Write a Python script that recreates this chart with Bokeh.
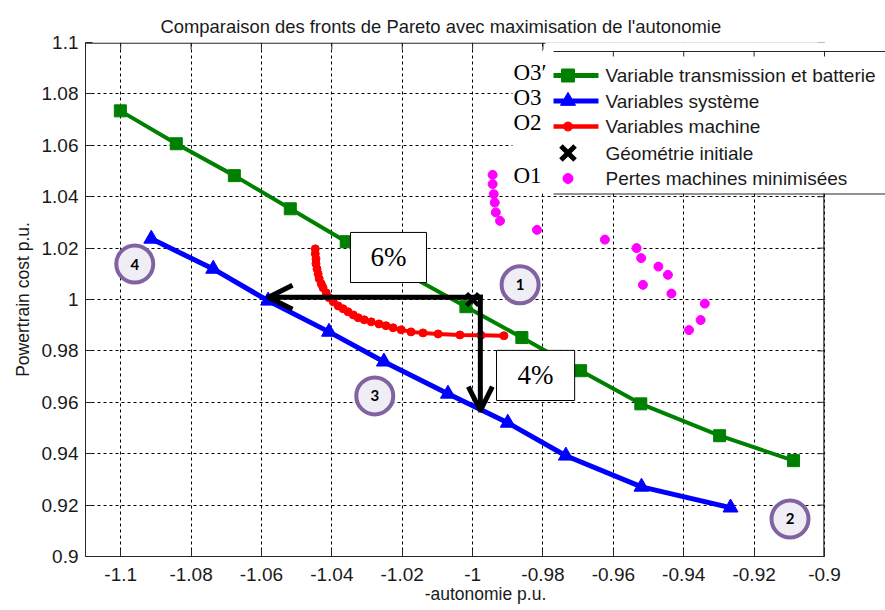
from bokeh.plotting import figure
from bokeh.models import (Range1d, FixedTicker, Label, BoxAnnotation, Arrow, OpenHead)
from bokeh.core.properties import value
from bokeh.embed import file_html
from bokeh.resources import INLINE

# ---------------- data ----------------
x_ticks = [-1.1, -1.08, -1.06, -1.04, -1.02, -1.0, -0.98, -0.96, -0.94, -0.92, -0.9]
x_tick_labels = ["-1.1", "-1.08", "-1.06", "-1.04", "-1.02", "-1", "-0.98", "-0.96", "-0.94", "-0.92", "-0.9"]
y_ticks = [0.9, 0.92, 0.94, 0.96, 0.98, 1.0, 1.02, 1.04, 1.06, 1.08, 1.1]
y_tick_labels = ["0.9", "0.92", "0.94", "0.96", "0.98", "1", "1.02", "1.04", "1.06", "1.08", "1.1"]

green_x = [-1.1001, -1.0842, -1.0677, -1.0518, -1.0359, -1.0189, -1.0019, -0.9860, -0.9693, -0.9522, -0.9298, -0.9088]
green_y = [1.0734, 1.0606, 1.0482, 1.0353, 1.0225, 1.0100, 0.9972, 0.9852, 0.9723, 0.9594, 0.9470, 0.9373]

blue_x = [-1.0913, -1.0737, -1.0581, -1.0408, -1.0252, -1.0070, -0.9900, -0.9735, -0.9520, -0.9267]
blue_y = [1.0236, 1.0119, 0.9995, 0.9874, 0.9758, 0.9633, 0.9520, 0.9392, 0.9271, 0.9190]

red_x = [-1.0447, -1.0447, -1.0445, -1.0445, -1.0442, -1.0439, -1.0436, -1.0430, -1.0425, -1.0416,
         -1.0408, -1.0396, -1.0382, -1.0368, -1.0354, -1.0339, -1.0325, -1.0308, -1.0288, -1.0266,
         -1.0246, -1.0226, -1.0203, -1.0175, -1.0141, -1.0098, -1.0036, -0.9976, -0.9911]
red_y = [1.0197, 1.0178, 1.0158, 1.0139, 1.0119, 1.0100, 1.0081, 1.0061, 1.0046, 1.0026,
         1.0007, 0.9991, 0.9975, 0.9964, 0.9952, 0.9940, 0.9929, 0.9921, 0.9913, 0.9905,
         0.9898, 0.9890, 0.9882, 0.9874, 0.9870, 0.9866, 0.9862, 0.9861, 0.9859]

pink_x = [-0.9943, -0.9943, -0.9940, -0.9937, -0.9934, -0.9922, -0.9817, -0.9624, -0.9534,
          -0.9521, -0.9472, -0.9445, -0.9516, -0.9435, -0.9340, -0.9352, -0.9385]
pink_y = [1.0485, 1.0449, 1.0410, 1.0377, 1.0339, 1.0306, 1.0271, 1.0233, 1.0200,
          1.0161, 1.0128, 1.0096, 1.0057, 1.0023, 0.9984, 0.9920, 0.9881]

geo_x = [-1.0]
geo_y = [1.0]

circle_x = [-0.9865, -0.9098, -1.0278, -1.0960]
circle_y = [1.0057, 0.9146, 0.9625, 1.0138]
circle_text = ["1", "2", "3", "4"]

gain_corner = (-0.9978, 1.0009)
gain_x_end = -1.0580
gain_y_end = 0.9568
box6 = dict(left=-1.0347, right=-1.0131, bottom=1.0066, top=1.0261)
box4 = dict(left=-0.9932, right=-0.9710, bottom=0.9607, top=0.9802)

series_labels = ["Variable transmission et batterie", "Variables syst\u00e8me", "Variables machine",
                 "G\u00e9om\u00e9trie initiale", "Pertes machines minimis\u00e9es"]
o_labels = ["O3\u2032", "O3", "O2", "O1"]

title_text = "Comparaison des fronts de Pareto avec maximisation de l'autonomie"
xlabel_text = "-autonomie p.u."
ylabel_text = "Powertrain cost p.u."

# ---------------- layout ----------------
W, H = 885, 610
FL, FT, FB = 85, 42, 54          # canvas borders (px)
XMIN, XMAX_AX, YMIN, YMAX = -1.11, -0.9, 0.9, 1.1
PXU_X = 739.0 / 0.21             # px per x unit
PXU_Y = 514.0 / 0.2              # px per y unit
x_end = XMIN + (W - FL) / PXU_X

def px2x(px):   # canvas pixel -> data x
    return XMIN + (px - FL) / PXU_X

def py2y(py):   # canvas pixel -> data y
    return YMAX - (py - FT) / PXU_Y

AX_COL = "#262626"
TXT_COL = "#1a1a1a"

p = figure(width=W, height=H, x_range=Range1d(XMIN, x_end), y_range=Range1d(YMIN, YMAX),
           output_backend="svg", toolbar_location=None,
           min_border_left=FL, min_border_right=0, min_border_top=FT, min_border_bottom=FB)
p.outline_line_color = None
p.background_fill_color = "white"
p.border_fill_color = "white"

# title
p.title.text = title_text
p.title.align = "left"
p.title.offset = 160 - FL
p.title.text_font = "Liberation Sans"
p.title.text_font_size = "18.4px"
p.title.text_font_style = "normal"
p.title.text_color = TXT_COL
p.title.vertical_align = "bottom"
p.title.standoff = 11

# axes
for ax, ticks, labels in ((p.xaxis[0], x_ticks, x_tick_labels), (p.yaxis[0], y_ticks, y_tick_labels)):
    ax.ticker = FixedTicker(ticks=ticks)
    ax.major_label_overrides = dict(zip(ticks, labels))
    ax.major_tick_in = 7
    ax.major_tick_out = 0
    ax.minor_tick_line_color = None
    ax.axis_line_color = AX_COL
    ax.major_tick_line_color = AX_COL
    ax.major_label_text_font = "Liberation Sans"
    ax.major_label_text_font_size = "19px"
    ax.major_label_text_color = TXT_COL
    ax.axis_label_text_font = "Liberation Sans"
    ax.axis_label_text_font_size = "17.5px"
    ax.axis_label_text_font_style = "normal"
    ax.axis_label_text_color = TXT_COL
p.xaxis[0].bounds = (XMIN, XMAX_AX)
p.xaxis[0].major_label_standoff = 11
p.xaxis[0].axis_label = xlabel_text
p.xaxis[0].axis_label_standoff = 0
p.yaxis[0].major_label_standoff = 7
p.yaxis[0].axis_label = ylabel_text
p.yaxis[0].axis_label_standoff = 6

# grids
for g, ticks in ((p.xgrid[0], x_ticks), (p.ygrid[0], y_ticks)):
    g.ticker = FixedTicker(ticks=ticks)
    g.grid_line_color = "black"
    g.grid_line_alpha = 1.0
    g.grid_line_width = 1
    g.grid_line_dash = "3 3"

# frame: top, right and ticks on them
tick_dx = 7 / PXU_X
tick_dy = 7 / PXU_Y
half_x = 0.6 / PXU_X
half_y = 0.6 / PXU_Y
p.quad(left=[XMAX_AX + half_x], right=[x_end + 0.01], bottom=[YMIN - 0.01], top=[YMAX + 0.01],
       fill_color="white", line_color=None)
p.segment(x0=[XMIN], y0=[YMAX - half_y], x1=[XMAX_AX], y1=[YMAX - half_y], line_color=AX_COL, line_width=1.2)
p.segment(x0=[XMAX_AX - half_x], y0=[YMIN], x1=[XMAX_AX - half_x], y1=[YMAX], line_color=AX_COL, line_width=1.2)
p.segment(x0=x_ticks, y0=[YMAX] * len(x_ticks), x1=x_ticks, y1=[YMAX - tick_dy] * len(x_ticks),
          line_color=AX_COL, line_width=1)
p.segment(x0=[XMAX_AX] * len(y_ticks), y0=y_ticks, x1=[XMAX_AX - tick_dx] * len(y_ticks), y1=y_ticks,
          line_color=AX_COL, line_width=1)

# white area behind the legend
p.quad(left=[px2x(512)], right=[px2x(545)], bottom=[py2y(193)], top=[py2y(50)],
       fill_color="white", line_color=None)
p.quad(left=[px2x(545)], right=[x_end + 0.01], bottom=[py2y(193)], top=[YMAX + 0.01],
       fill_color="white", line_color=None)
# legend box top / bottom rules
p.segment(x0=[px2x(553), px2x(553)], y0=[py2y(51), py2y(193.5)],
          x1=[x_end + 0.01, x_end + 0.01], y1=[py2y(51), py2y(193.5)],
          line_color=AX_COL, line_width=1.2)
leg_ticks = [t for t in x_ticks if t > px2x(553)]
p.segment(x0=leg_ticks, y0=[py2y(51)] * len(leg_ticks), x1=leg_ticks, y1=[py2y(56)] * len(leg_ticks),
          line_color=AX_COL, line_width=1)

# ---------------- series ----------------
GREEN, BLUE, RED, MAG = "#008000", "#0000ff", "#ff0000", "#ff00ff"
p.line(green_x, green_y, line_color=GREEN, line_width=4)
p.scatter(green_x, green_y, marker="square", size=12, fill_color=GREEN, line_color=GREEN)
p.line(blue_x, blue_y, line_color=BLUE, line_width=5)
p.scatter(blue_x, blue_y, marker="triangle", size=15, fill_color=BLUE, line_color=BLUE)
p.line(red_x, red_y, line_color=RED, line_width=4)
p.scatter(red_x, red_y, marker="circle", size=8, fill_color=RED, line_color=RED)
p.scatter(geo_x, geo_y, marker="x", size=17, line_color="black", line_width=4.5)
p.scatter(pink_x, pink_y, marker="circle", size=9, fill_color=MAG, line_color=MAG)

# legend (drawn by hand so that marker sizes match)
leg_rows = [75, 100.5, 126, 152.5, 178]
lx0, lx1, lxm, ltx = px2x(553), px2x(598), px2x(567.5), px2x(605)
leg_specs = [
    (GREEN, 5, "square", 13, GREEN, 1),
    (BLUE, 5, "triangle", 15, BLUE, 1),
    (RED, 4.5, "circle", 9, RED, 1),
    (None, 0, "x", 20, "black", 5),
    (None, 0, "circle", 10, MAG, 1),
]
for row, lab, (lc, lw, mk, ms, mc, mlw) in zip(leg_rows, series_labels, leg_specs):
    yy = py2y(row)
    if lc is not None:
        p.line([lx0, lx1], [yy, yy], line_color=lc, line_width=lw)
    if mk == "x":
        p.scatter([lxm], [yy], marker=mk, size=ms, line_color=mc, line_width=mlw)
    else:
        p.scatter([lxm], [yy], marker=mk, size=ms, fill_color=mc, line_color=mc, line_width=mlw)
    p.add_layout(Label(x=ltx, y=yy, text=lab, text_font="Liberation Sans", text_font_size="19px",
                       text_color=TXT_COL, text_align="left", text_baseline="middle"))

# numbered circles
p.scatter(circle_x, circle_y, marker="circle", size=37, fill_color="#f0eef5",
          line_color="#8064a2", line_width=4)
p.text(circle_x, circle_y, text=circle_text, text_font=value("Lato"), text_font_style="bold",
       text_font_size="15px", text_align="center", text_baseline="middle", text_color="black")

# gain arrows
for xe, ye in ((gain_x_end, gain_corner[1]), (gain_corner[0], gain_y_end)):
    p.add_layout(Arrow(x_start=gain_corner[0], y_start=gain_corner[1], x_end=xe, y_end=ye,
                       line_width=5, line_color="black", line_cap="square",
                       end=OpenHead(size=24, line_width=5, line_color="black")))

# percentage boxes
for b, txt in ((box6, "6%"), (box4, "4%")):
    p.add_layout(BoxAnnotation(left=b["left"], right=b["right"], bottom=b["bottom"], top=b["top"],
                               fill_color="white", fill_alpha=1.0, line_color="black", line_width=1,
                               line_alpha=1.0))
    p.add_layout(Label(x=(b["left"] + b["right"]) / 2, y=(b["bottom"] + b["top"]) / 2, text=txt,
                       text_font="Liberation Serif", text_font_size="27px", text_color="black",
                       text_align="center", text_baseline="middle"))

# O labels next to legend
for lab, py in zip(o_labels, [71.5, 97, 122, 175]):
    p.add_layout(Label(x=px2x(513), y=py2y(py), text=lab, text_font="Liberation Serif",
                       text_font_size="23px", text_color="black", text_align="left",
                       text_baseline="middle"))

open("out.html", "w").write(file_html(p, INLINE))
